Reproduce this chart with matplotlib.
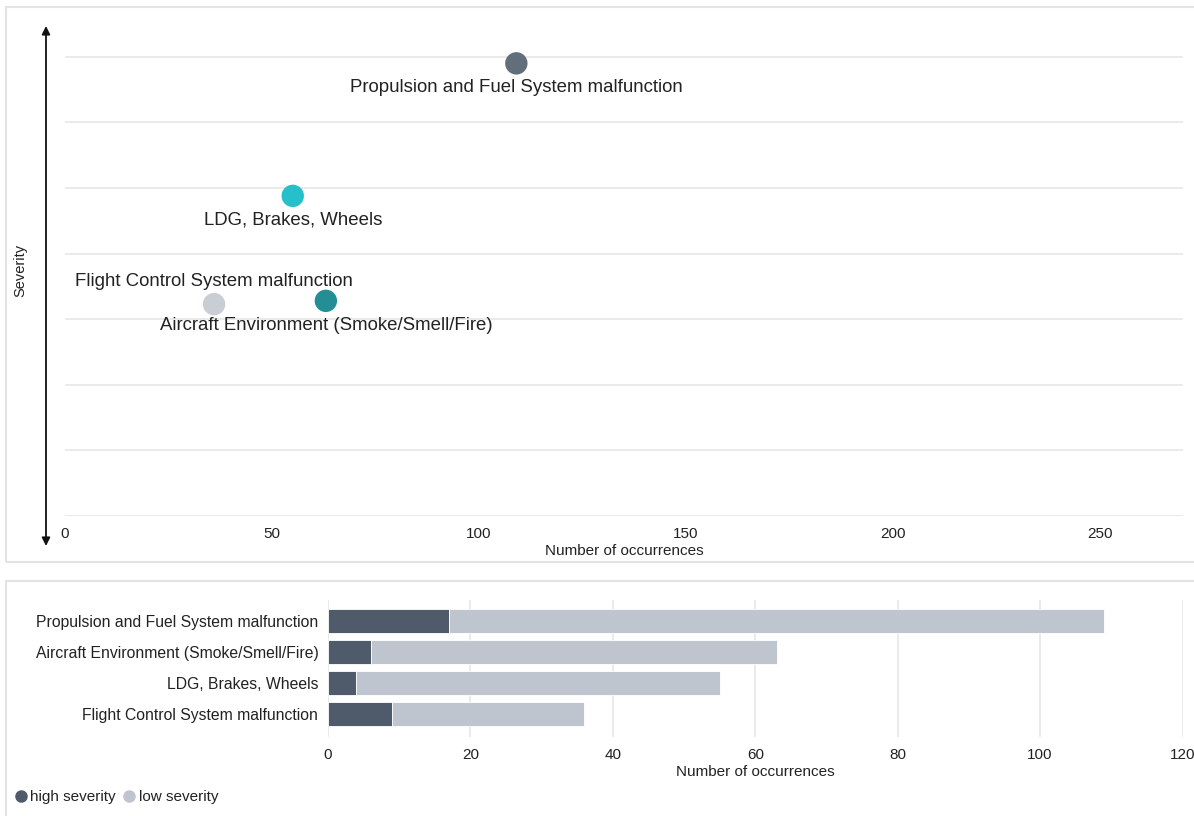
import matplotlib
matplotlib.use("Agg")
import matplotlib.pyplot as plt
from matplotlib.patches import Rectangle
from matplotlib.lines import Line2D

plt.rcParams['font.family'] = ['Liberation Sans', 'DejaVu Sans']

# --- data ---
categories = [
    "Propulsion and Fuel System malfunction",
    "Aircraft Environment (Smoke/Smell/Fire)",
    "LDG, Brakes, Wheels",
    "Flight Control System malfunction",
]
occurrences = [109, 63, 55, 36]
severity = [6.9, 3.28, 4.88, 3.23]
high_severity = [17, 6, 4, 9]
low_severity = [92, 57, 51, 27]
point_colors = ["#636e7b", "#238f94", "#25c0c9", "#c9cdd4"]
label_above = [False, False, False, True]

W, H = 1194, 816
fig = plt.figure(figsize=(W / 100, H / 100), dpi=100)

def fx(px):
    return px / W

def fy(py):
    return 1 - py / H

# panel frames
border = "#e3e3e3"
fig.patches.append(Rectangle((fx(6), fy(562)), fx(1300) - fx(6), fy(7) - fy(562),
                             transform=fig.transFigure, fill=False, ec=border, lw=1.5))
fig.patches.append(Rectangle((fx(6), fy(830)), fx(1300) - fx(6), fy(581) - fy(830),
                             transform=fig.transFigure, fill=False, ec=border, lw=1.5))

text_col = "#222222"
grid_col = "#e6e6e6"

# --- top: scatter ---
ax1 = fig.add_axes([fx(65), fy(516), fx(1183) - fx(65), fy(24) - fy(516)])
ax1.scatter(occurrences, severity, s=260, c=point_colors, zorder=3, linewidths=0)
for name, x, y, above in zip(categories, occurrences, severity, label_above):
    off = 16 if above else -17.5
    ax1.annotate(name, (x, y), xytext=(0, off), textcoords="offset points",
                 ha="center", va="center", fontsize=13.4, color=text_col)
ax1.set_xlim(0, 270)
ax1.set_ylim(0, 7.5)
ax1.set_yticks(range(0, 8))
ax1.set_yticklabels([])
ax1.set_xticks([0, 50, 100, 150, 200, 250])
ax1.grid(axis="y", color=grid_col, lw=1.2)
ax1.set_axisbelow(True)
for s in ax1.spines.values():
    s.set_visible(False)
ax1.tick_params(length=0, labelsize=11, labelcolor=text_col, pad=8)
ax1.set_xlabel("Number of occurrences", fontsize=11, color=text_col, labelpad=2)

fig.text(fx(20), fy(270), "Severity", rotation=90, ha="center", va="center",
         fontsize=10.5, color=text_col)
ax1.annotate("", xy=(fx(46), fy(26)), xytext=(fx(46), fy(546)),
             xycoords="figure fraction", textcoords="figure fraction",
             arrowprops=dict(arrowstyle="<|-|>", color="#111111", lw=1.3,
                             mutation_scale=12, shrinkA=0, shrinkB=0))

# --- bottom: stacked bars ---
ax2 = fig.add_axes([fx(328), fy(737), fx(1182.5) - fx(328), fy(600) - fy(737)])
ypos = list(range(len(categories)))
ax2.barh(ypos, high_severity, height=0.77, color="#4f5b6b", edgecolor="white", lw=0.6, zorder=3)
ax2.barh(ypos, low_severity, left=high_severity, height=0.77, color="#bfc5ce",
         edgecolor="white", lw=0.6, zorder=3)
ax2.set_yticks(ypos)
ax2.set_yticklabels(categories)
ax2.set_ylim(3.74, -0.68)
ax2.set_xlim(0, 120)
ax2.set_xticks([0, 20, 40, 60, 80, 100, 120])
ax2.grid(axis="x", color=grid_col, lw=1.2)
ax2.set_axisbelow(True)
for s in ax2.spines.values():
    s.set_visible(False)
ax2.tick_params(length=0, labelsize=11, labelcolor=text_col)
ax2.tick_params(axis="y", labelsize=11.3, pad=7)
ax2.tick_params(axis="x", pad=8)
ax2.set_xlabel("Number of occurrences", fontsize=11, color=text_col, labelpad=2)

handles = [Line2D([], [], marker="o", ls="", color="#4f5b6b", markersize=8),
           Line2D([], [], marker="o", ls="", color="#bfc5ce", markersize=8)]
fig.legend(handles, ["high severity", "low severity"], loc="center left",
           bbox_to_anchor=(fx(-2), fy(797)), ncol=2, frameon=False, fontsize=11,
           handletextpad=0.0, columnspacing=0.3, handlelength=1.2,
           labelcolor=text_col)

fig.savefig("out.png", dpi=100)
